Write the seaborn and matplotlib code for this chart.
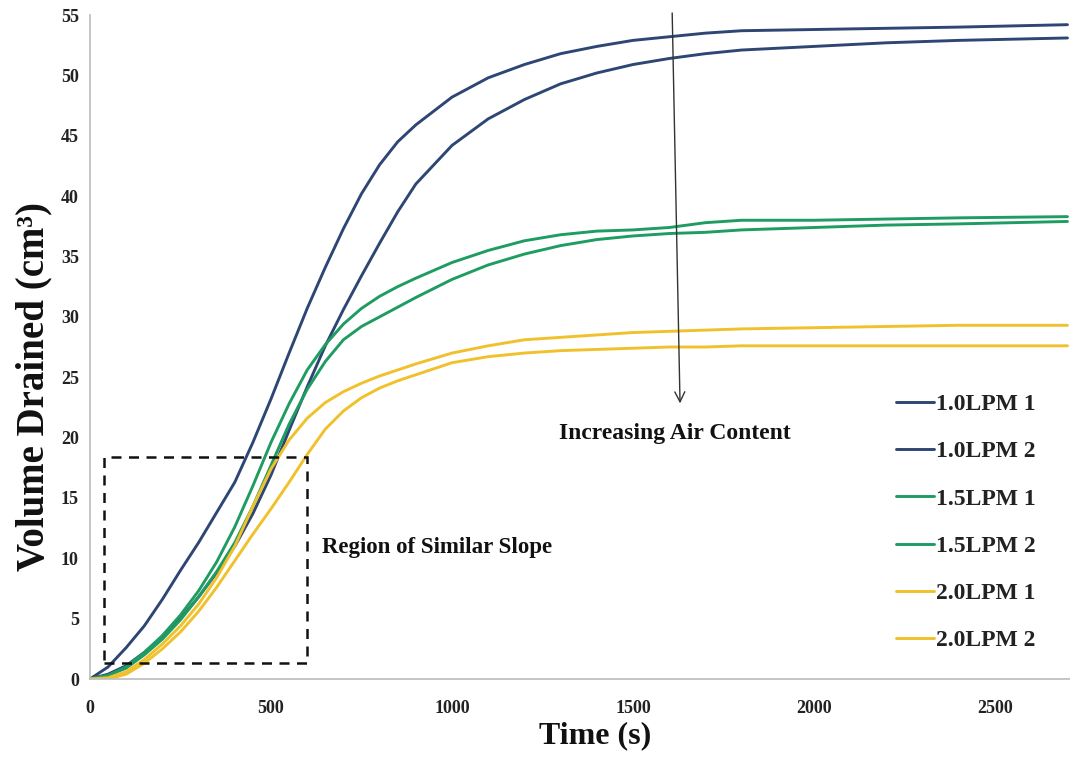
import matplotlib
matplotlib.use("Agg")
import matplotlib.pyplot as plt
from matplotlib.patches import Rectangle
import seaborn as sns
import pandas as pd

# Drainage time grid (s)
time_s = [0, 50, 100, 150, 200, 250, 300, 350, 400, 450, 500, 550, 600, 650,
          700, 750, 800, 850, 900, 1000, 1100, 1200, 1300, 1400, 1500, 1600,
          1700, 1800, 2000, 2200, 2400, 2700]

# Cumulative volume drained (cm^3) for each run
lpm10_run1 = [0, 1.0, 2.6, 4.4, 6.6, 9.0, 11.3, 13.8, 16.3, 19.6, 23.2, 27.0, 30.7, 34.1,
              37.3, 40.2, 42.6, 44.5, 45.9, 48.2, 49.8, 50.9, 51.8, 52.4, 52.9, 53.2,
              53.5, 53.7, 53.8, 53.9, 54.0, 54.2]
lpm10_run2 = [0, 0.4, 1.1, 2.2, 3.5, 5.0, 6.8, 8.8, 11.0, 13.7, 16.9, 20.6, 24.2, 27.6,
              30.6, 33.4, 36.1, 38.7, 41.0, 44.2, 46.4, 48.0, 49.3, 50.2, 50.9, 51.4,
              51.8, 52.1, 52.4, 52.7, 52.9, 53.1]
lpm15_run1 = [0, 0.3, 1.0, 2.2, 3.6, 5.3, 7.3, 9.7, 12.6, 16.0, 19.6, 22.8, 25.6, 27.7,
              29.4, 30.7, 31.7, 32.5, 33.2, 34.5, 35.5, 36.3, 36.8, 37.1, 37.2, 37.4,
              37.8, 38.0, 38.0, 38.1, 38.2, 38.3]
lpm15_run2 = [0, 0.3, 0.9, 2.0, 3.3, 4.9, 6.8, 8.9, 11.3, 14.3, 17.7, 21.1, 24.0, 26.3,
              28.1, 29.2, 30.0, 30.8, 31.6, 33.1, 34.3, 35.2, 35.9, 36.4, 36.7, 36.9,
              37.0, 37.2, 37.4, 37.6, 37.7, 37.9]
lpm20_run1 = [0, 0.1, 0.6, 1.6, 2.9, 4.4, 6.2, 8.4, 11.0, 14.3, 17.4, 19.8, 21.6, 22.9,
              23.8, 24.5, 25.1, 25.6, 26.1, 27.0, 27.6, 28.1, 28.3, 28.5, 28.7, 28.8,
              28.9, 29.0, 29.1, 29.2, 29.3, 29.3]
lpm20_run2 = [0, 0.0, 0.4, 1.3, 2.5, 3.9, 5.6, 7.6, 9.8, 12.0, 14.1, 16.3, 18.6, 20.7,
              22.2, 23.3, 24.1, 24.7, 25.2, 26.2, 26.7, 27.0, 27.2, 27.3, 27.4, 27.5,
              27.5, 27.6, 27.6, 27.6, 27.6, 27.6]

series_names = ["1.0LPM 1", "1.0LPM 2", "1.5LPM 1", "1.5LPM 2", "2.0LPM 1", "2.0LPM 2"]
series_values = [lpm10_run1, lpm10_run2, lpm15_run1, lpm15_run2, lpm20_run1, lpm20_run2]

x_ticks = [0, 500, 1000, 1500, 2000, 2500]
y_ticks = list(range(0, 60, 5))

navy, green, gold = "#2E4674", "#1F9C62", "#F0C12C"
palette = dict(zip(series_names, [navy, navy, green, green, gold, gold]))

frames = [pd.DataFrame({"Time (s)": time_s, "Volume": vals, "Run": name})
          for name, vals in zip(series_names, series_values)]
data = pd.concat(frames, ignore_index=True)

sns.set_theme(style="white")
serif = ["Liberation Serif", "DejaVu Serif"]
plt.rcParams["font.family"] = serif
plt.rcParams["font.weight"] = "bold"

fig = plt.figure(figsize=(10.70, 7.59), dpi=100)
ax = fig.add_axes([0.0841, 0.1054, 0.9159, 0.8748])

sns.lineplot(data=data, x="Time (s)", y="Volume", hue="Run", hue_order=series_names,
             palette=palette, linewidth=2.1, ax=ax, legend=True)

ax.set_xlim(0, 2707)
ax.set_ylim(0, 55)
ax.set_xticks(x_ticks)
ax.set_yticks(y_ticks)
ax.tick_params(axis="both", which="major", labelsize=13, length=4, width=1,
               color="#BBBBBB", direction="out")
ax.tick_params(axis="x", pad=11)
ax.tick_params(axis="y", pad=4)
for lbl in ax.get_xticklabels() + ax.get_yticklabels():
    lbl.set_fontweight("bold")
    lbl.set_color("#222222")

for side in ("top", "right"):
    ax.spines[side].set_visible(False)
for side in ("left", "bottom"):
    ax.spines[side].set_color("#BBBBBB")
    ax.spines[side].set_linewidth(1.2)

ax.set_xlabel("Time (s)", fontsize=23, fontweight="bold", color="#111111")
ax.set_ylabel("Volume Drained (cm\u00b3)", fontsize=28, fontweight="bold", color="#111111")
ax.xaxis.set_label_coords(0.515, -0.063)
ax.yaxis.set_label_coords(-0.038, 0.44)

# Dashed box around the early, similar-slope portion of the curves
box = Rectangle((40, 1.3), 560, 17.1, fill=False, edgecolor="#111111",
                linestyle=(0, (4, 3)), linewidth=1.8, zorder=5)
ax.add_patch(box)
ax.text(641, 10.9, "Region of Similar Slope", fontsize=16.5, fontweight="bold",
        ha="left", va="center", color="#111111")

# Arrow indicating increasing air content
ax.annotate("", xy=(1630, 22.6), xytext=(1608, 55.4),
            arrowprops=dict(arrowstyle="->", color="#333333", lw=1.0,
                            mutation_scale=18),
            annotation_clip=False)
ax.text(1616, 20.3, "Increasing Air Content", fontsize=17, fontweight="bold",
        ha="center", va="center", color="#111111")

leg = ax.legend(loc="upper left", bbox_to_anchor=(0.813, 0.444), frameon=False,
                fontsize=17, handlelength=1.6, handletextpad=0.1,
                labelspacing=1.09, borderaxespad=0)
for txt in leg.get_texts():
    txt.set_fontweight("bold")
    txt.set_color("#222222")
for line in leg.get_lines():
    line.set_linewidth(2.1)

fig.savefig("out.png", dpi=100)
